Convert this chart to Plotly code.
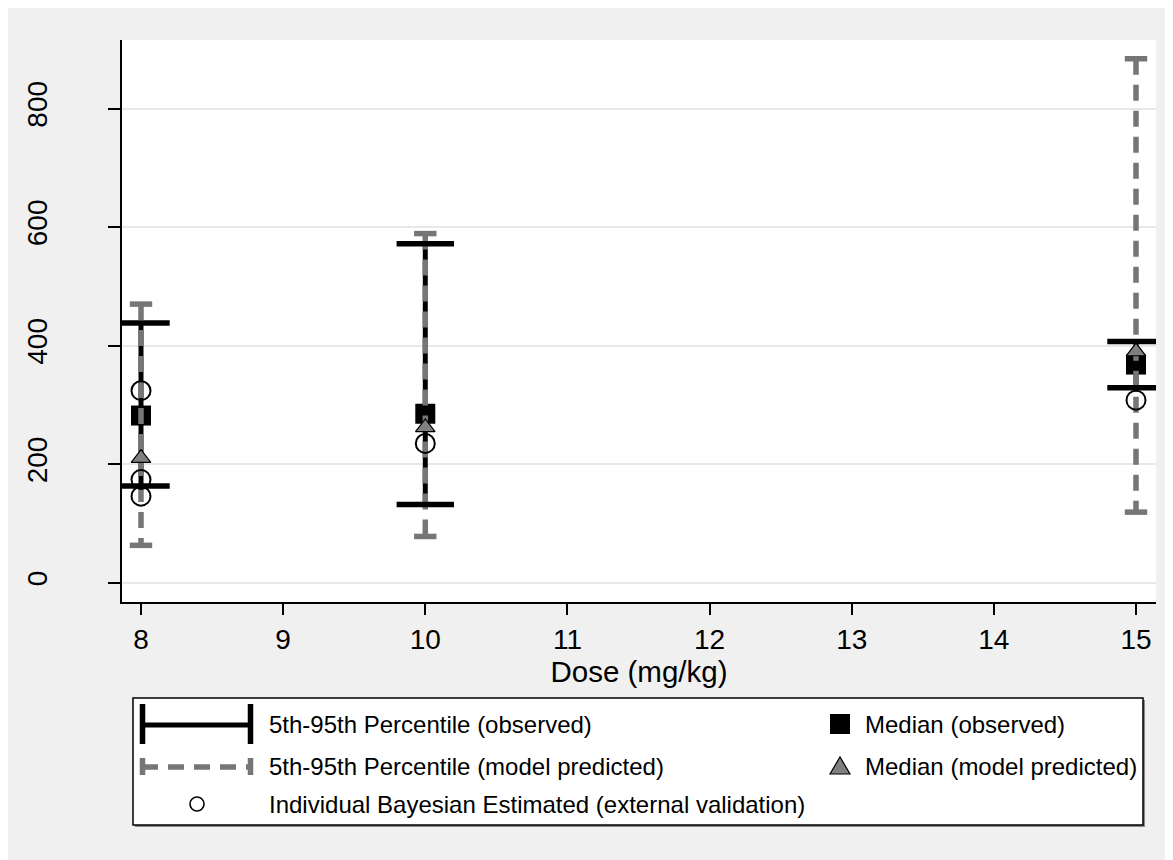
import plotly.graph_objects as go

# ---------------- data ----------------
doses = [8, 10, 15]
obs_p5 = [163, 132, 329]
obs_p95 = [438, 572, 407]
obs_median = [282, 285, 368]
pred_p5 = [63, 78, 119]
pred_p95 = [470, 589, 884]
pred_median = [210, 262, 390]
ind_dose = [8, 8, 8, 10, 15]
ind_value = [324, 174, 146, 235, 308]

x_ticks = [8, 9, 10, 11, 12, 13, 14, 15]
y_ticks = [0, 200, 400, 600, 800]

legend_labels = [
    "5th-95th Percentile (observed)",
    "5th-95th Percentile (model predicted)",
    "Individual Bayesian Estimated (external validation)",
    "Median (observed)",
    "Median (model predicted)",
]

FONT = "Arial, Liberation Sans, sans-serif"
GREY = "#767676"


def segs(xs, lo, hi):
    X, Y = [], []
    for d, a, b in zip(xs, lo, hi):
        X += [d, d, None]
        Y += [b, a, None]
    return X, Y


fig = go.Figure()

# observed medians (drawn first; lines go over them)
fig.add_trace(go.Scatter(x=doses, y=obs_median, mode="markers",
                         marker=dict(symbol="square", size=20, color="black",
                                     line=dict(width=0))))
# observed range line
ox, oy = segs(doses, obs_p5, obs_p95)
fig.add_trace(go.Scatter(x=ox, y=oy, mode="lines",
                         line=dict(color="black", width=5)))
# predicted range dashed line
px_, py_ = segs(doses, pred_p5, pred_p95)
fig.add_trace(go.Scatter(x=px_, y=py_, mode="lines",
                         line=dict(color=GREY, width=5.5, dash="16px,10px")))
# predicted caps
fig.add_trace(go.Scatter(x=doses + doses, y=pred_p5 + pred_p95, mode="markers",
                         marker=dict(symbol="line-ew-open", size=16, color=GREY,
                                     line=dict(width=5.5, color=GREY))))
# observed caps
fig.add_trace(go.Scatter(x=doses + doses, y=obs_p5 + obs_p95, mode="markers",
                         marker=dict(symbol="line-ew-open", size=41, color="black",
                                     line=dict(width=5.5, color="black"))))
# predicted medians
fig.add_trace(go.Scatter(x=doses, y=pred_median, mode="markers",
                         marker=dict(symbol="triangle-up", size=17, color="#808080",
                                     line=dict(width=1.2, color="black"))))
# individual estimates
fig.add_trace(go.Scatter(x=ind_dose, y=ind_value, mode="markers",
                         marker=dict(symbol="circle-open", size=19, color="black",
                                     line=dict(width=2, color="black"))))

# ---------------- layout helpers (screen px -> paper) ----------------
PL, PR, PT, PB = 122, 1156, 40, 602


def X(p):
    return (p - PL) / (PR - PL)


def Y(p):
    return (PB - p) / (PB - PT)


shapes = []
annotations = []

# legend box with shadow
shapes.append(dict(type="rect", xref="paper", yref="paper",
                   x0=X(135), x1=X(1145), y0=Y(700), y1=Y(827),
                   fillcolor="#8a8a8a", line=dict(width=0)))
shapes.append(dict(type="rect", xref="paper", yref="paper",
                   x0=X(133), x1=X(1143), y0=Y(698), y1=Y(825),
                   fillcolor="white", line=dict(color="black", width=1.5)))

r1, r2, r3 = 724, 766, 804
# row 1: observed range key
shapes.append(dict(type="line", xref="paper", yref="paper",
                   x0=X(142), x1=X(251), y0=Y(r1 + 1), y1=Y(r1 + 1),
                   line=dict(color="black", width=5)))
for cx in (142.5, 250.5):
    shapes.append(dict(type="line", xref="paper", yref="paper",
                       x0=X(cx), x1=X(cx), y0=Y(r1 - 20), y1=Y(r1 + 20),
                       line=dict(color="black", width=5.5)))
# row 2: predicted range key
shapes.append(dict(type="line", xref="paper", yref="paper",
                   x0=X(142), x1=X(251), y0=Y(r2 + 1), y1=Y(r2 + 1),
                   line=dict(color=GREY, width=5.5, dash="16px,10px")))
for cx in (142.5, 250.5):
    shapes.append(dict(type="line", xref="paper", yref="paper",
                       x0=X(cx), x1=X(cx), y0=Y(r2 - 8), y1=Y(r2 + 9),
                       line=dict(color=GREY, width=5.5)))
# row 3: circle key
shapes.append(dict(type="circle", xref="paper", yref="paper",
                   x0=X(190), x1=X(204), y0=Y(r3 - 7), y1=Y(r3 + 7),
                   line=dict(color="black", width=1.6)))
# right column: square and triangle
shapes.append(dict(type="rect", xref="paper", yref="paper",
                   x0=X(830), x1=X(850), y0=Y(r1 - 10), y1=Y(r1 + 10),
                   fillcolor="black", line=dict(width=0)))
tri = "M {} {} L {} {} L {} {} Z".format(X(830), Y(r2 + 8), X(850), Y(r2 + 8),
                                         X(840), Y(r2 - 9))
shapes.append(dict(type="path", xref="paper", yref="paper", path=tri,
                   fillcolor="#808080", line=dict(color="black", width=1.2)))

# legend texts
for lab, (lx, ly) in zip(legend_labels,
                         [(267, r1), (267, r2), (267, r3), (863, r1), (863, r2)]):
    annotations.append(dict(text=lab, xref="paper", yref="paper",
                            x=X(lx), y=Y(ly), xanchor="left", yanchor="middle",
                            showarrow=False, font=dict(family=FONT, size=24, color="black")))

fig.update_layout(
    width=1173, height=860,
    margin=dict(l=114, r=25, t=32, b=266, pad=0, autoexpand=False),
    paper_bgcolor="#f0f0f0",
    plot_bgcolor="white",
    showlegend=False,
    hovermode=False,
    font=dict(family=FONT, color="black"),
    shapes=shapes,
    annotations=annotations,
)
fig.update_xaxes(
    automargin=False,
    range=[7.8663, 15.1407], tickvals=x_ticks, ticktext=[str(v) for v in x_ticks],
    showgrid=False, zeroline=False, showline=True, linecolor="black", linewidth=2,
    ticks="outside", ticklen=11, tickwidth=2, tickcolor="black",
    tickfont=dict(family=FONT, size=28, color="black"),
    title=dict(text="Dose (mg/kg)", font=dict(family=FONT, size=29.5, color="black"), standoff=0),
)
fig.update_yaxes(
    automargin=False,
    range=[-32.6, 915.6], tickvals=y_ticks, ticktext=[str(v) for v in y_ticks],
    showgrid=True, gridcolor="#e8e8e8", gridwidth=2, zeroline=False,
    showline=True, linecolor="black", linewidth=2,
    ticks="outside", ticklen=12, tickwidth=2, tickcolor="black",
    tickangle=-90, ticklabelstandoff=50,
    tickfont=dict(family=FONT, size=28, color="black"),
)

fig.write_html("out.html")
